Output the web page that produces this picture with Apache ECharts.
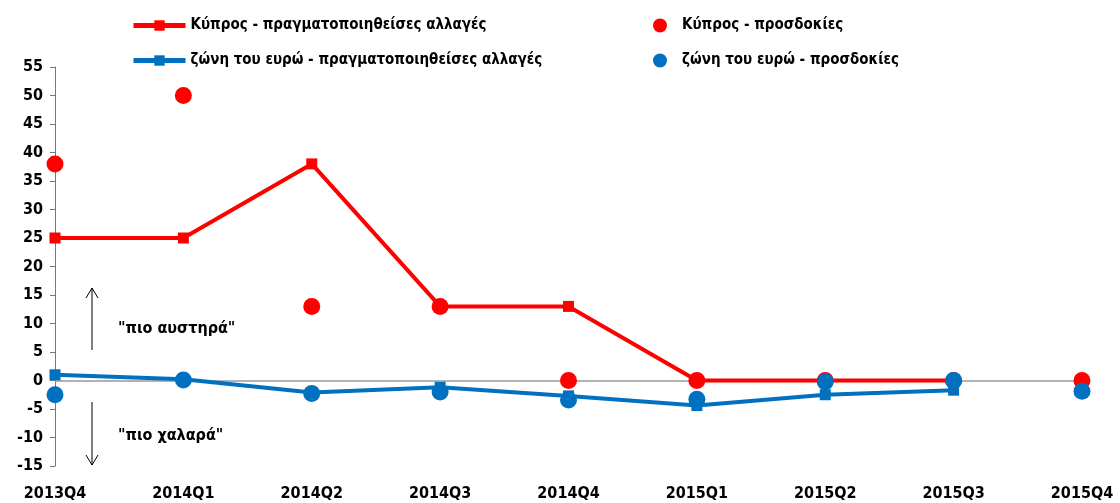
<!DOCTYPE html>
<html><head><meta charset="utf-8">
<script src="https://cdn.jsdelivr.net/npm/echarts@6/dist/echarts.min.js"></script>
<style>html,body{margin:0;padding:0;background:#fff}#c{width:1120px;height:503px}</style>
</head><body><div id="c"></div>
<script>
const categories = ['2013Q4','2014Q1','2014Q2','2014Q3','2014Q4','2015Q1','2015Q2','2015Q3','2015Q4'];
const cyActual = [25, 25, 38, 13, 13, 0, 0, 0, null];
const cyExpect = [38, 50, 13, 13, 0, 0, 0, 0, 0];
const euActual = [1.0, 0.2, -2.1, -1.2, -2.7, -4.4, -2.5, -1.7, null];
const euExpect = [-2.5, 0.1, -2.3, -2.0, -3.4, -3.3, -0.2, 0, -1.9];
const yTicks = {min: -15, max: 55, interval: 5};
const names = ['Κύπρος - πραγματοποιηθείσες αλλαγές','Κύπρος - προσδοκίες','ζώνη του ευρώ - πραγματοποιηθείσες αλλαγές','ζώνη του ευρώ - προσδοκίες'];

const RED = '#FF0000', BLUE = '#0070C0';
const FONT = '"DejaVu Sans Condensed","Liberation Sans Narrow",sans-serif';
const chart = echarts.init(document.getElementById('c'));
const legendText = {fontFamily: FONT, fontSize: 15, fontWeight: 'bold', color: '#000'};
const legendTextR = Object.assign({}, legendText, {padding: [0, 0, 0, 10]});
function arrow(x, y1, y2) {
  const dir = y2 < y1 ? 1 : -1;
  return {type: 'group', children: [
    {type: 'line', shape: {x1: x, y1: y1, x2: x, y2: y2}, style: {stroke: '#000', lineWidth: 1}},
    {type: 'polyline', shape: {points: [[x - 6, y2 + dir * 10], [x, y2], [x + 6, y2 + dir * 10]]}, style: {stroke: '#000', lineWidth: 1, fill: null}}
  ]};
}
chart.setOption({
  animation: false,
  grid: {left: 55, right: 38, top: 67, bottom: 37},
  legend: [
    {data: [names[0]], left: 126, top: 13, itemWidth: 52, itemHeight: 13, itemGap: 4, textStyle: legendText, lineStyle: {width: 5}},
    {data: [names[2]], left: 126, top: 48, itemWidth: 52, itemHeight: 13, textStyle: legendText, lineStyle: {width: 5}},
    {data: [{name: names[1], icon: 'circle'}], left: 648, top: 13, itemWidth: 14, itemHeight: 14, textStyle: legendTextR},
    {data: [{name: names[3], icon: 'circle'}], left: 648, top: 48, itemWidth: 14, itemHeight: 14, textStyle: legendTextR}
  ],
  xAxis: {
    type: 'category', data: categories, boundaryGap: false,
    axisLine: {show: false}, axisTick: {show: false},
    axisLabel: {margin: 20, color: '#000', fontWeight: 'bold', fontSize: 16, fontFamily: FONT}
  },
  yAxis: {
    type: 'value', min: yTicks.min, max: yTicks.max, interval: yTicks.interval,
    splitLine: {show: false},
    axisLine: {show: true, lineStyle: {color: '#777', width: 1}},
    axisTick: {show: true, length: 5, lineStyle: {color: '#777'}},
    axisLabel: {color: '#000', fontWeight: 'bold', fontSize: 16, fontFamily: FONT, margin: 12}
  },
  series: [
    {name: names[0], type: 'line', data: cyActual, symbol: 'rect', symbolSize: 11,
     lineStyle: {color: RED, width: 4}, itemStyle: {color: RED}, z: 3,
     markLine: {silent: true, symbol: 'none', label: {show: false},
       lineStyle: {color: '#999', width: 1.5, type: 'solid'}, data: [{yAxis: 0}], z: 1}},
    {name: names[2], type: 'line', data: euActual, symbol: 'rect', symbolSize: 11,
     lineStyle: {color: BLUE, width: 4}, itemStyle: {color: BLUE}, z: 3},
    {name: names[1], type: 'scatter', data: cyExpect, symbol: 'circle', symbolSize: 17,
     itemStyle: {color: RED, opacity: 1}, z: 4},
    {name: names[3], type: 'scatter', data: euExpect, symbol: 'circle', symbolSize: 17,
     itemStyle: {color: BLUE, opacity: 1}, z: 5}
  ],
  graphic: [
    arrow(92, 350, 288),
    arrow(92, 402, 465),
    {type: 'text', left: 118, top: 321, style: {text: '"πιο αυστηρά"', font: 'bold 16px ' + FONT, fill: '#000'}},
    {type: 'text', left: 118, top: 428, style: {text: '"πιο χαλαρά"', font: 'bold 16px ' + FONT, fill: '#000'}}
  ]
});
</script></body></html>
